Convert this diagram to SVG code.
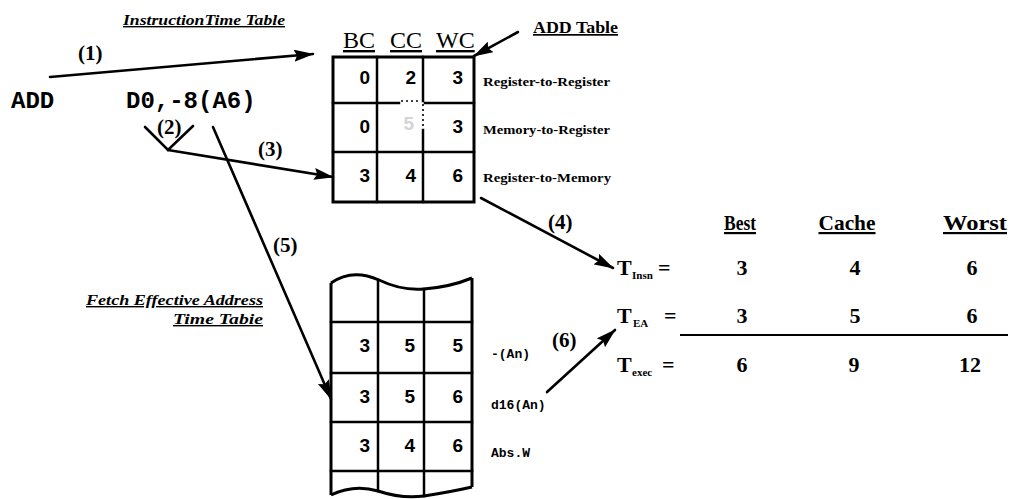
<svg xmlns="http://www.w3.org/2000/svg" width="1011" height="499" viewBox="0 0 1011 499">
  <style>
    .bg { fill: #ffffff; }
    .grid { fill: none; stroke: #000; stroke-width: 2.5; stroke-linecap: square; }
    .faint { fill: none; stroke: #000; stroke-width: 1.6; stroke-dasharray: 2 3; }
    .frame { fill: none; stroke: #000; stroke-width: 3; }
    .conn { fill: none; stroke: #000; stroke-width: 2.6; stroke-linecap: round; }
    .num { font-family: "Liberation Sans", Arial, sans-serif; font-weight: bold; font-size: 19px; fill: #000; text-anchor: end; }
    .code { font-family: "Liberation Mono", "Courier New", monospace; font-weight: bold; fill: #000; }
    .serif { font-family: "Liberation Serif", "Times New Roman", serif; fill: #000; }
    .lbl { font-family: "Liberation Serif", "Times New Roman", serif; font-weight: bold; font-size: 21px; fill: #000; }
    .title { font-family: "Liberation Serif", "Times New Roman", serif; font-weight: bold; font-style: italic; font-size: 14px; fill: #000; text-decoration: underline; }
    .row { font-family: "Liberation Serif", "Times New Roman", serif; font-weight: bold; font-size: 13px; fill: #000; }
    .eq { font-family: "Liberation Serif", "Times New Roman", serif; font-weight: bold; font-size: 22px; fill: #000; }
    .sub { font-family: "Liberation Serif", "Times New Roman", serif; font-weight: bold; font-size: 11px; fill: #000; }
    .val { font-family: "Liberation Serif", "Times New Roman", serif; font-weight: bold; font-size: 22px; fill: #000; text-anchor: middle; }
  </style>
  <defs>
    <marker id="ah" viewBox="0 0 20 12" refX="19" refY="6" markerWidth="20" markerHeight="12" markerUnits="userSpaceOnUse" orient="auto">
      <path d="M0,0 L20,6 L0,12 L3,6 z" fill="#000"/>
    </marker>
  </defs>

  <rect class="bg" x="0" y="0" width="1011" height="499"/>

  <!-- instruction source line -->
  <g id="instruction">
    <text class="code" x="11" y="108" font-size="24">ADD</text>
    <text class="code" x="126" y="108" font-size="24">D0,-8(A6)</text>
  </g>

  <!-- caption for the instruction time table -->
  <g id="instr-title">
    <text class="title" x="123" y="25" textLength="162" lengthAdjust="spacingAndGlyphs">InstructionTime Table</text>
  </g>

  <!-- ADD instruction timing table -->
  <g id="add-table">
    <text class="serif" x="343" y="48" font-size="24" text-decoration="underline">BC</text>
    <text class="serif" x="390" y="48" font-size="24" text-decoration="underline">CC</text>
    <text class="serif" x="436" y="48" font-size="24" text-decoration="underline">WC</text>
    <rect class="frame" x="333" y="57" width="141" height="145"/>
    <line class="grid" x1="377" y1="57" x2="377" y2="202"/>
    <line class="grid" x1="423" y1="57" x2="423" y2="101"/>
    <line class="faint" x1="423" y1="104" x2="423" y2="128"/>
    <line class="grid" x1="423" y1="130" x2="423" y2="202"/>
    <line class="grid" x1="333" y1="103" x2="399" y2="103"/>
    <line class="faint" x1="401" y1="101" x2="421" y2="101"/>
    <line class="grid" x1="425" y1="103" x2="474" y2="103"/>
    <line class="grid" x1="333" y1="152" x2="474" y2="152"/>
    <text class="num" x="370" y="84">0</text>
    <text class="num" x="416" y="84">2</text>
    <text class="num" x="463" y="84">3</text>
    <text class="num" x="370" y="133">0</text>
    <text class="num" x="414" y="130" style="fill:#d4d4d4">5</text>
    <text class="num" x="463" y="133">3</text>
    <text class="num" x="370" y="182">3</text>
    <text class="num" x="416" y="182">4</text>
    <text class="num" x="463" y="182">6</text>
    <text class="row" x="483" y="86" textLength="127" lengthAdjust="spacingAndGlyphs">Register-to-Register</text>
    <text class="row" x="483" y="134" textLength="127" lengthAdjust="spacingAndGlyphs">Memory-to-Register</text>
    <text class="row" x="483" y="182" textLength="128" lengthAdjust="spacingAndGlyphs">Register-to-Memory</text>
  </g>

  <g id="add-table-label">
    <text class="serif" x="533" y="33" font-size="17" font-weight="bold" text-decoration="underline" textLength="85" lengthAdjust="spacingAndGlyphs">ADD Table</text>
  </g>

  <!-- caption for the effective address table -->
  <g id="ea-title">
    <text class="title" x="263" y="305" text-anchor="end" textLength="177" lengthAdjust="spacingAndGlyphs">Fetch Effective Address</text>
    <text class="title" x="263" y="324" text-anchor="end" textLength="90" lengthAdjust="spacingAndGlyphs">Time Tabie</text>
  </g>

  <!-- effective address timing table, torn at top and bottom -->
  <g id="ea-table">
    <path class="frame" d="M331,283 Q352,268 379,280 Q402,291 424,289 Q450,287 472,278"/>
    <path class="frame" d="M331,495 Q354,484 378,491 Q402,499 424,496 Q450,492 472,487"/>
    <line class="frame" x1="331" y1="283" x2="331" y2="495"/>
    <line class="frame" x1="472" y1="278" x2="472" y2="487"/>
    <line class="grid" x1="378" y1="280" x2="378" y2="491"/>
    <line class="grid" x1="424" y1="289" x2="424" y2="496"/>
    <line class="grid" x1="331" y1="322" x2="472" y2="322"/>
    <line class="grid" x1="331" y1="373" x2="472" y2="373"/>
    <line class="grid" x1="331" y1="422" x2="472" y2="422"/>
    <line class="grid" x1="331" y1="471" x2="472" y2="471"/>
    <text class="num" x="370" y="352">3</text>
    <text class="num" x="415" y="352">5</text>
    <text class="num" x="463" y="352">5</text>
    <text class="num" x="370" y="403">3</text>
    <text class="num" x="415" y="403">5</text>
    <text class="num" x="463" y="403">6</text>
    <text class="num" x="370" y="452">3</text>
    <text class="num" x="415" y="452">4</text>
    <text class="num" x="463" y="452">6</text>
    <text class="code" x="491" y="358" font-size="13">-(An)</text>
    <text class="code" x="491" y="409" font-size="13">d16(An)</text>
    <text class="code" x="491" y="457" font-size="13">Abs.W</text>
  </g>

  <!-- execution time summary -->
  <g id="summary">
    <text class="serif" x="740" y="230" font-size="22" font-weight="bold" text-anchor="middle" text-decoration="underline" textLength="32" lengthAdjust="spacingAndGlyphs">Best</text>
    <text class="serif" x="847" y="230" font-size="22" font-weight="bold" text-anchor="middle" text-decoration="underline" textLength="57" lengthAdjust="spacingAndGlyphs">Cache</text>
    <text class="serif" x="975" y="230" font-size="22" font-weight="bold" text-anchor="middle" text-decoration="underline" textLength="64" lengthAdjust="spacingAndGlyphs">Worst</text>

    <text class="eq" x="617" y="275">T</text>
    <text class="sub" x="632" y="279">Insn</text>
    <text class="eq" x="658" y="275">=</text>
    <text class="val" x="742" y="275">3</text>
    <text class="val" x="855" y="275">4</text>
    <text class="val" x="972" y="275">6</text>

    <text class="eq" x="617" y="323">T</text>
    <text class="sub" x="633" y="327">EA</text>
    <text class="eq" x="664" y="323">=</text>
    <text class="val" x="742" y="323">3</text>
    <text class="val" x="855" y="323">5</text>
    <text class="val" x="972" y="323">6</text>

    <line x1="680" y1="335" x2="1008" y2="335" stroke="#000" stroke-width="2"/>

    <text class="eq" x="617" y="372">T</text>
    <text class="sub" x="632" y="376">exec</text>
    <text class="eq" x="662" y="372">=</text>
    <text class="val" x="742" y="372">6</text>
    <text class="val" x="854" y="372">9</text>
    <text class="val" x="970" y="372">12</text>
  </g>

  <!-- numbered steps and their connectors -->
  <g id="connectors">
    <line class="conn" x1="50" y1="77" x2="313" y2="54" marker-end="url(#ah)"/>
    <line class="conn" x1="518" y1="32" x2="474" y2="56" marker-end="url(#ah)"/>
    <polyline class="conn" points="145,127 168,150 193,126"/>
    <line class="conn" x1="168" y1="150" x2="333" y2="177" marker-end="url(#ah)"/>
    <line class="conn" x1="213" y1="127" x2="331" y2="399" marker-end="url(#ah)"/>
    <line class="conn" x1="481" y1="198" x2="613" y2="268" marker-end="url(#ah)"/>
    <line class="conn" x1="547" y1="392" x2="615" y2="330" marker-end="url(#ah)"/>
  </g>

  <g id="step-labels">
    <text class="lbl" x="78" y="60">(1)</text>
    <text class="lbl" x="157" y="134">(2)</text>
    <text class="lbl" x="258" y="156">(3)</text>
    <text class="lbl" x="548" y="229">(4)</text>
    <text class="lbl" x="273" y="252">(5)</text>
    <text class="lbl" x="552" y="347">(6)</text>
  </g>
</svg>
